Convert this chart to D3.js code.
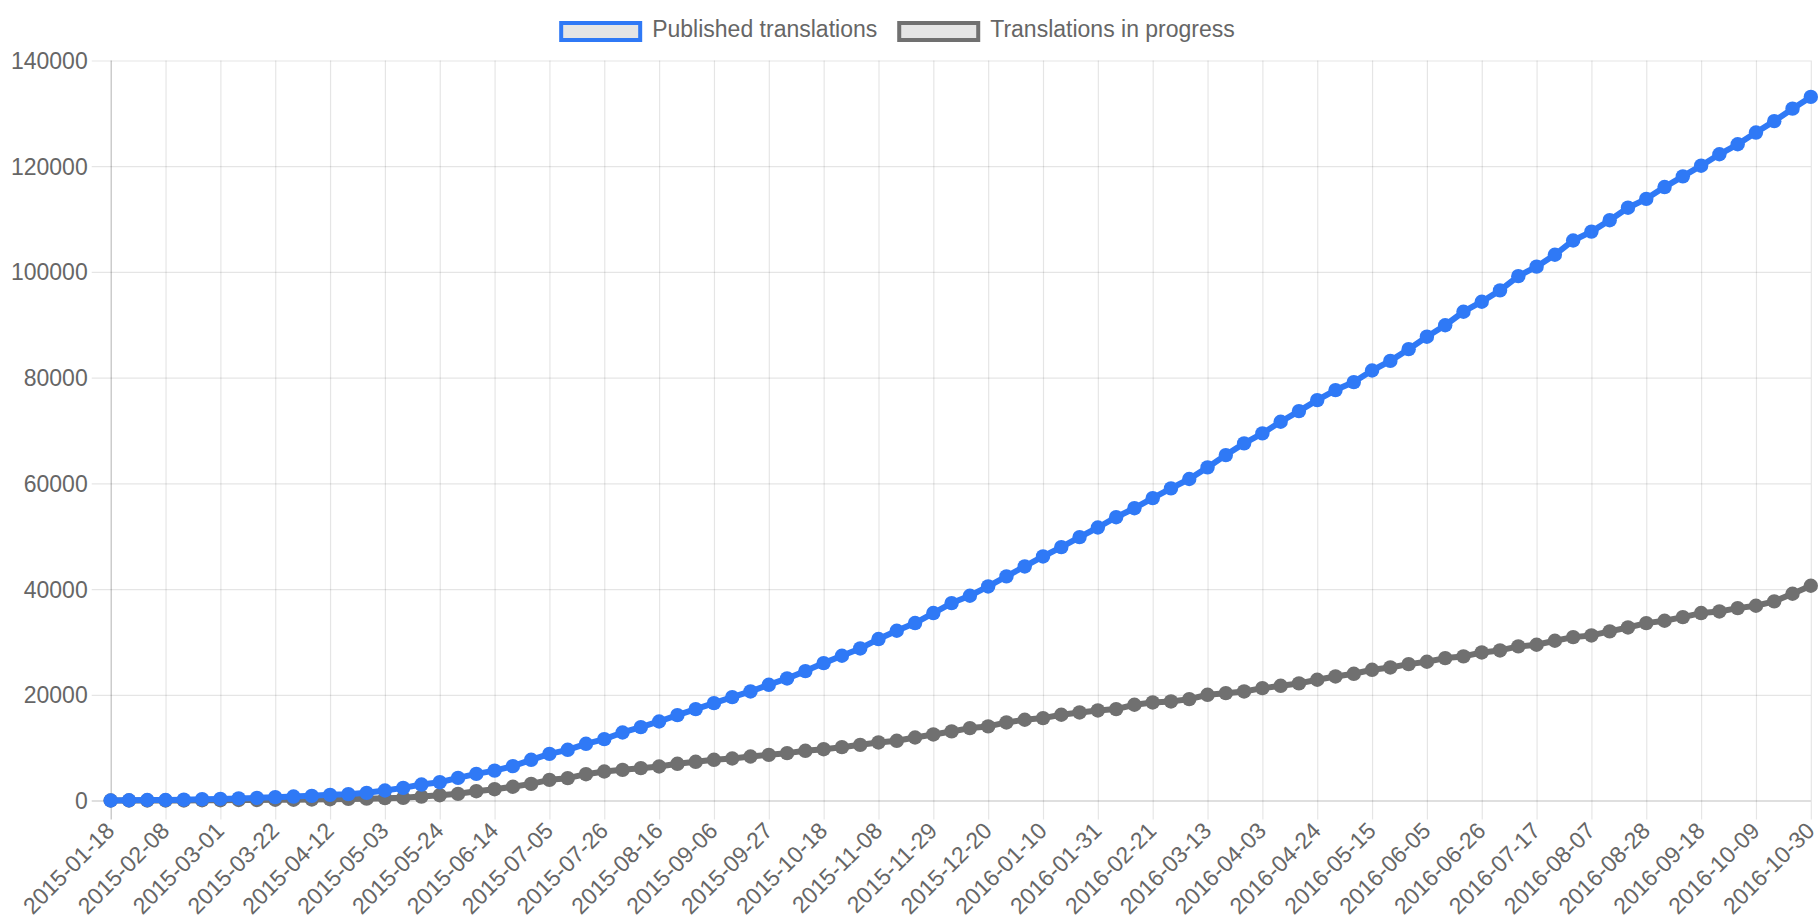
<!DOCTYPE html>
<html>
<head>
<meta charset="utf-8">
<script src="https://cdn.jsdelivr.net/npm/d3@7/dist/d3.min.js"></script>
<style>
  html, body { margin: 0; padding: 0; background: #ffffff; }
  svg { display: block; }
  text { font-family: "Liberation Sans", Arial, Helvetica, sans-serif; fill: #666666; }
</style>
</head>
<body>
<svg id="chart" width="1819" height="924"></svg>
<script>
// Weekly snapshot dates
const weeks = [
  "2015-01-18","2015-01-25","2015-02-01","2015-02-08","2015-02-15","2015-02-22","2015-03-01","2015-03-08",
  "2015-03-15","2015-03-22","2015-03-29","2015-04-05","2015-04-12","2015-04-19","2015-04-26","2015-05-03",
  "2015-05-10","2015-05-17","2015-05-24","2015-05-31","2015-06-07","2015-06-14","2015-06-21","2015-06-28",
  "2015-07-05","2015-07-12","2015-07-19","2015-07-26","2015-08-02","2015-08-09","2015-08-16","2015-08-23",
  "2015-08-30","2015-09-06","2015-09-13","2015-09-20","2015-09-27","2015-10-04","2015-10-11","2015-10-18",
  "2015-10-25","2015-11-01","2015-11-08","2015-11-15","2015-11-22","2015-11-29","2015-12-06","2015-12-13",
  "2015-12-20","2015-12-27","2016-01-03","2016-01-10","2016-01-17","2016-01-24","2016-01-31","2016-02-07",
  "2016-02-14","2016-02-21","2016-02-28","2016-03-06","2016-03-13","2016-03-20","2016-03-27","2016-04-03",
  "2016-04-10","2016-04-17","2016-04-24","2016-05-01","2016-05-08","2016-05-15","2016-05-22","2016-05-29",
  "2016-06-05","2016-06-12","2016-06-19","2016-06-26","2016-07-03","2016-07-10","2016-07-17","2016-07-24",
  "2016-07-31","2016-08-07","2016-08-14","2016-08-21","2016-08-28","2016-09-04","2016-09-11","2016-09-18",
  "2016-09-25","2016-10-02","2016-10-09","2016-10-16","2016-10-23","2016-10-30"
];

// Cumulative count of published translations
const published = [
  0, 50, 100, 100, 150, 250, 300, 400, 500, 630,
  750, 880, 1070, 1200, 1450, 1890, 2390, 3020, 3460, 4280,
  5030, 5660, 6500, 7700, 8830, 9590, 10730, 11610, 12870, 13880,
  14950, 16150, 17290, 18420, 19560, 20630, 21890, 23090, 24480, 25990,
  27380, 28770, 30540, 32110, 33570, 35460, 37350, 38740, 40500, 42400,
  44280, 46170, 47940, 49830, 51650, 53600, 55300, 57200, 59050, 60820,
  63020, 65350, 67560, 69450, 71650, 73670, 75750, 77640, 79160, 81350,
  83170, 85390, 87750, 89910, 92470, 94360, 96510, 99200, 101000, 103250,
  105950, 107630, 109790, 112150, 113830, 116060, 118080, 120100, 122260, 124150,
  126370, 128530, 130890, 133110
];

// Cumulative count of translations in progress
const inProgress = [
  0, 0, 0, 0, 0, 50, 50, 100, 100, 150,
  150, 200, 250, 300, 350, 440, 500, 750, 1000, 1260,
  1760, 2140, 2600, 3150, 3910, 4230, 4980, 5490, 5800, 6120,
  6430, 6940, 7320, 7700, 7950, 8330, 8640, 8960, 9400, 9710,
  10090, 10530, 10980, 11290, 11920, 12500, 13070, 13700, 14020, 14770,
  15280, 15590, 16220, 16660, 17040, 17290, 18110, 18550, 18740, 19180,
  20000, 20310, 20630, 21260, 21700, 22150, 22840, 23470, 23970, 24730,
  25170, 25800, 26250, 26940, 27260, 28010, 28390, 29150, 29460, 30220,
  30910, 31230, 31990, 32740, 33560, 34010, 34700, 35460, 35770, 36400,
  36850, 37670, 39120, 40630
];

// Every third week gets a label on the x axis
const weekLabels = weeks.filter((d, i) => i % 3 === 0);
const yTicks = [0, 20000, 40000, 60000, 80000, 100000, 120000, 140000];

const seriesNames = ["Published translations", "Translations in progress"];
const seriesColors = ["#2f79f6", "#707070"];

const svg = d3.select("#chart");
const plot = { left: 110.7, right: 1810.8, top: 60.5, bottom: 800.5 };
const tickLen = 19;
const fontSize = 23;

const x = d3.scalePoint().domain(weeks).range([plot.left, plot.right]);
const y = d3.scaleLinear().domain([0, 140000]).range([plot.bottom, plot.top]);

const gridColor = "rgba(0,0,0,0.1)";
const zeroColor = "rgba(0,0,0,0.25)";

// Horizontal grid lines with tick marks on the left
const yAxis = d3.axisLeft(y).tickValues(yTicks).tickSize(0).tickPadding(0).tickFormat(d3.format("d"));
const gy = svg.append("g").attr("transform", `translate(${plot.left},0)`).call(yAxis);
gy.select(".domain").remove();
gy.selectAll(".tick line")
  .attr("x1", -tickLen)
  .attr("x2", plot.right - plot.left)
  .attr("stroke", d => d === 0 ? zeroColor : gridColor)
  .attr("stroke-width", 1.2);
gy.selectAll(".tick text")
  .attr("x", -tickLen - 4)
  .attr("dy", "0.35em")
  .style("font-size", fontSize + "px")
  .style("fill", "#666");

// Vertical grid lines with rotated date labels
const xAxis = d3.axisBottom(x).tickValues(weekLabels).tickSize(0).tickPadding(0);
const gx = svg.append("g").attr("transform", `translate(0,${plot.bottom})`).call(xAxis);
gx.select(".domain").remove();
gx.selectAll(".tick line")
  .attr("y1", plot.top - plot.bottom)
  .attr("y2", tickLen)
  .attr("stroke", d => d === weeks[0] ? zeroColor : gridColor)
  .attr("stroke-width", 1.2);
gx.selectAll(".tick text")
  .attr("text-anchor", "end")
  .attr("dy", "0.35em")
  .attr("transform", `translate(-1,${tickLen + 7}) rotate(-45)`)
  .attr("y", 0)
  .style("font-size", fontSize + "px")
  .style("fill", "#666");

// Series: in-progress drawn first so published sits on top
const series = [
  { name: seriesNames[1], values: inProgress, color: seriesColors[1] },
  { name: seriesNames[0], values: published, color: seriesColors[0] }
];

const line = d3.line()
  .x((d, i) => x(weeks[i]))
  .y(d => y(d));

series.forEach(s => {
  const g = svg.append("g");
  g.append("path")
    .datum(s.values)
    .attr("fill", "none")
    .attr("stroke", s.color)
    .attr("stroke-width", 6)
    .attr("stroke-linejoin", "round")
    .attr("d", line);
  g.selectAll("circle")
    .data(s.values)
    .join("circle")
    .attr("cx", (d, i) => x(weeks[i]))
    .attr("cy", d => y(d))
    .attr("r", 7.2)
    .attr("fill", s.color);
});

// Legend, centred above the plot
const legend = svg.append("g");
const boxW = 79, boxH = 17, gap = 10, itemGap = 20;
const legendY = 31.5;
let cursor = 0;
seriesNames.forEach((name, i) => {
  const g = legend.append("g");
  g.append("rect")
    .attr("x", 2).attr("y", legendY - boxH / 2)
    .attr("width", boxW).attr("height", boxH)
    .attr("fill", "#e5e5e5")
    .attr("stroke", seriesColors[i])
    .attr("stroke-width", 4);
  const t = g.append("text")
    .attr("x", boxW + 4 + gap)
    .attr("y", legendY)
    .attr("dy", "0.22em")
    .style("font-size", fontSize + "px")
    .style("fill", "#666")
    .text(name);
  const w = boxW + 4 + gap + t.node().getComputedTextLength();
  g.attr("transform", `translate(${cursor},0)`);
  cursor += w + itemGap;
});
const totalW = cursor - itemGap;
legend.attr("transform", `translate(${897 - totalW / 2},0)`);
</script>
</body>
</html>
